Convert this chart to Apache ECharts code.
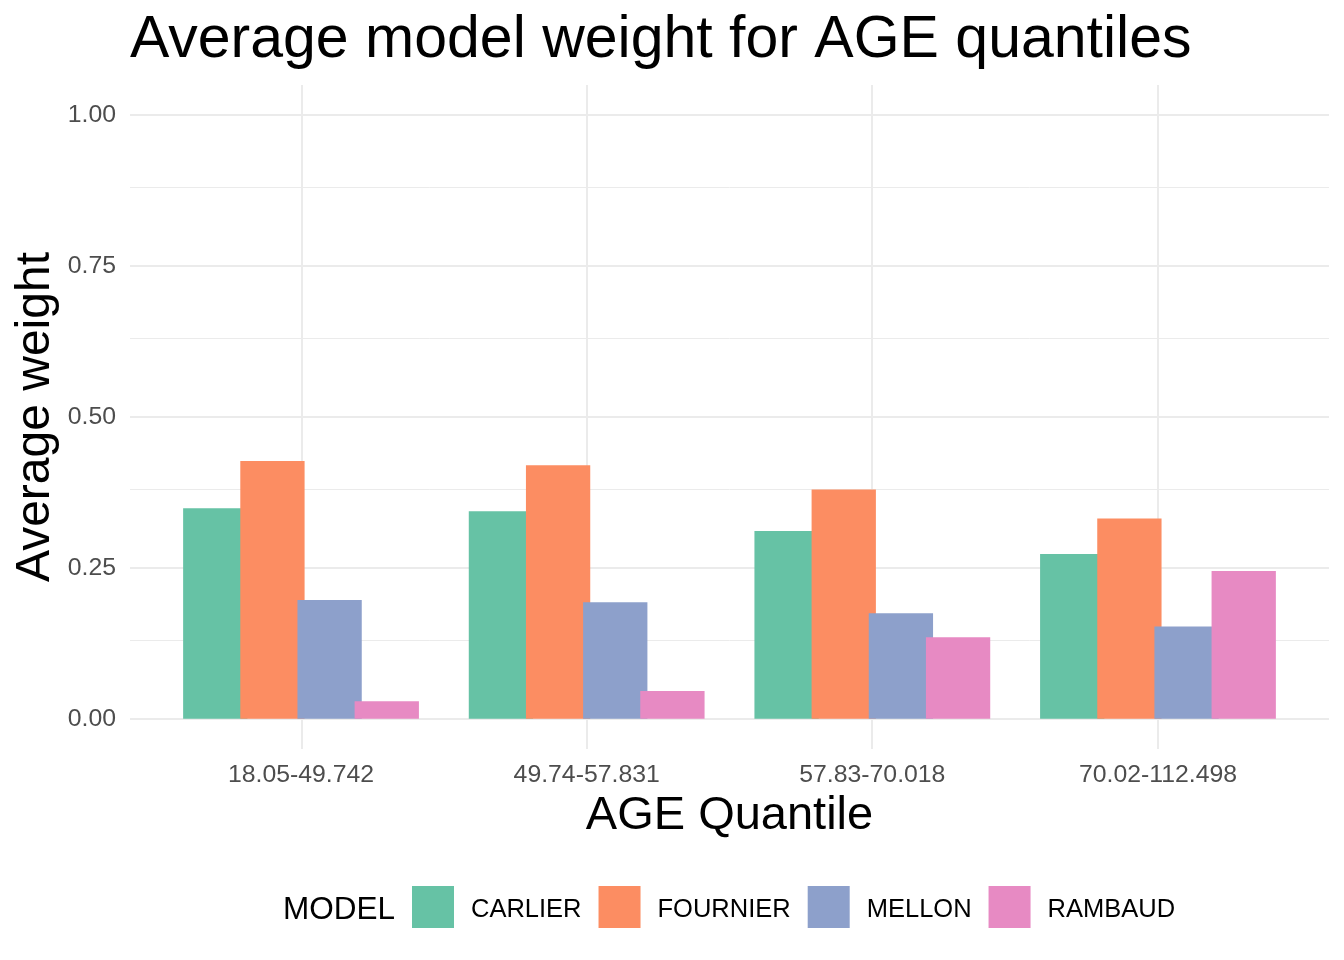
<!DOCTYPE html>
<html>
<head>
<meta charset="utf-8">
<script src="https://cdn.jsdelivr.net/npm/echarts@6/dist/echarts.min.js"></script>
<style>html,body{margin:0;padding:0;background:#fff}#c{width:1344px;height:960px}</style>
</head>
<body>
<div id="c"></div>
<script>
const categories = ['18.05-49.742', '49.74-57.831', '57.83-70.018', '70.02-112.498'];
const models = ['CARLIER', 'FOURNIER', 'MELLON', 'RAMBAUD'];
const carlier = [0.349, 0.344, 0.311, 0.273];
const fournier = [0.427, 0.420, 0.380, 0.332];
const mellon = [0.197, 0.193, 0.175, 0.153];
const rambaud = [0.029, 0.046, 0.135, 0.245];
const yTicks = [0, 0.25, 0.5, 0.75, 1.0];
const yMinor = [0.125, 0.375, 0.625, 0.875];
const colors = ['#66C2A5', '#FC8D62', '#8DA0CB', '#E78AC3'];

const seriesValues = [carlier, fournier, mellon, rambaud];
const FONT = 'Liberation Sans, Arial, sans-serif';
const gridColor = '#EBEBEB';

const gridLines = [];
yTicks.forEach(v => gridLines.push({ yAxis: v, lineStyle: { color: gridColor, width: 2, type: 'solid' } }));
yMinor.forEach(v => gridLines.push({ yAxis: v, lineStyle: { color: gridColor, width: 1, type: 'solid' } }));
categories.forEach((c, i) => gridLines.push({ xAxis: i + 1, lineStyle: { color: gridColor, width: 2, type: 'solid' } }));

const chart = echarts.init(document.getElementById('c'), null, { renderer: 'canvas' });
const option = {
  backgroundColor: '#ffffff',
  animation: false,
  textStyle: { fontFamily: FONT },
  grid: [
    { left: 130, right: 15, top: 85, bottom: 211 },
    { left: 158.2, right: 43.2, top: 85, bottom: 211 }
  ],
  xAxis: [
    { type: 'value', gridIndex: 0, min: 0.4, max: 4.6, show: false },
    {
      type: 'category', gridIndex: 1, data: categories,
      axisLine: { show: false }, axisTick: { show: false }, splitLine: { show: false },
      axisLabel: { color: '#4D4D4D', fontSize: 24.8, fontFamily: FONT, margin: 14, lineHeight: 25 }
    }
  ],
  yAxis: [
    {
      type: 'value', gridIndex: 0, min: -0.05, max: 1.05,
      axisLine: { show: false }, axisTick: { show: false }, splitLine: { show: false },
      axisLabel: {
        color: '#4D4D4D', fontSize: 24.8, fontFamily: FONT, margin: 14,
        customValues: yTicks,
        formatter: v => v.toFixed(2)
      }
    },
    {
      type: 'value', gridIndex: 1, min: -0.05, max: 1.05, show: false,
      splitLine: { show: false }
    }
  ],
  legend: {
    data: models,
    left: 412, top: 886,
    padding: 0,
    orient: 'horizontal',
    icon: 'rect',
    itemWidth: 42, itemHeight: 42,
    itemGap: 17,
    selectedMode: false,
    formatter: n => '{t|' + n + '}',
    textStyle: {
      color: '#000', fontSize: 25.5, fontFamily: FONT, padding: [0, 0, 0, 12],
      rich: { t: { color: '#000', fontSize: 25.5, fontFamily: FONT, padding: [6, 0, 0, 0] } }
    }
  },
  graphic: [
    {
      type: 'text', left: 130, top: 11,
      style: { text: 'Average model weight for AGE quantiles', fontSize: 59, fontFamily: FONT, fill: '#000' }
    },
    {
      type: 'text', x: 729.5, y: 816,
      style: { text: 'AGE Quantile', fontSize: 47, fontFamily: FONT, fill: '#000', align: 'center', verticalAlign: 'middle' }
    },
    {
      type: 'text', x: 36, y: 417, rotation: Math.PI / 2,
      style: { text: 'Average weight', fontSize: 48, fontFamily: FONT, fill: '#000', align: 'center', verticalAlign: 'middle' }
    },
    {
      type: 'text', x: 283, y: 910,
      style: { text: 'MODEL', fontSize: 31.5, fontFamily: FONT, fill: '#000', align: 'left', verticalAlign: 'middle' }
    }
  ],
  series: [
    {
      type: 'scatter', xAxisIndex: 0, yAxisIndex: 0, data: [[1, 0]], symbolSize: 0, z: 0, silent: true,
      markLine: { silent: true, symbol: ['none', 'none'], label: { show: false }, animation: false, data: gridLines, z: 0 }
    }
  ].concat(models.map((m, i) => ({
    name: m, type: 'bar', xAxisIndex: 1, yAxisIndex: 1,
    data: seriesValues[i],
    barWidth: 64.3, barGap: '-11.1%',
    itemStyle: { color: colors[i] },
    z: 2
  })))
};
chart.setOption(option);
</script>
</body>
</html>
